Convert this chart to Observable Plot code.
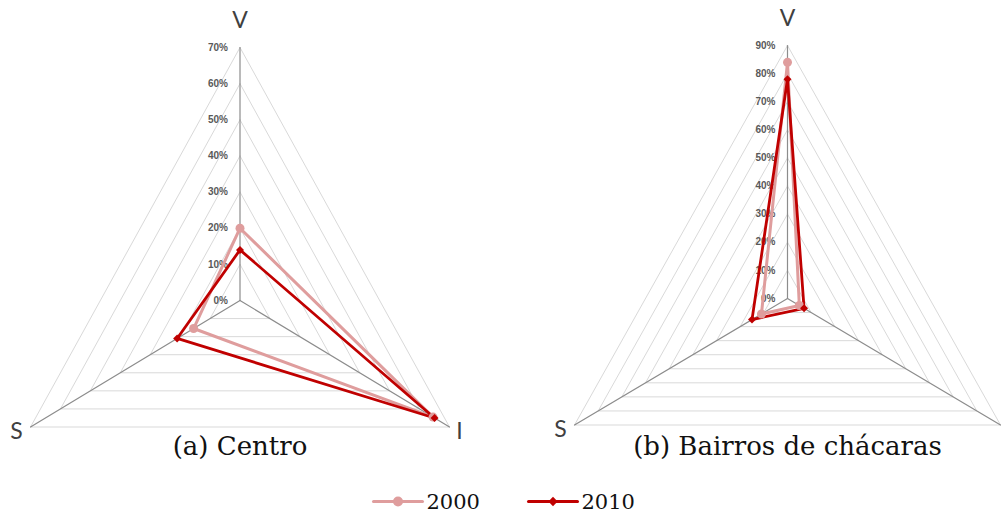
<!DOCTYPE html>
<html><head><meta charset="utf-8">
<script src="https://cdn.jsdelivr.net/npm/d3@7"></script>
<script src="https://cdn.jsdelivr.net/npm/@observablehq/plot@0.6"></script>
<style>body{margin:0;background:#fff;overflow:hidden}</style>
</head><body><div id="chart"></div>
<script>
// ---- data ----
const axisNames = ["V", "S", "I"];
const panelTitles = ["(a) Centro", "(b) Bairros de chácaras"];
const years = ["2000", "2010"];
const centro2000 = [20, 15.5, 64.5];
const centro2010 = [14, 21, 65];
const chacaras2000 = [84, 11, 5];
const chacaras2010 = [78, 15, 7];
const panelMax = [70, 90];
const tickStep = 10;

// ---- layout ----
const W = 1003, H = 524;
const layout = [
  {cx: 239.5, cy: 300, up: 253, half: 209.5, down: 126.5},
  {cx: 787, cy: 298, up: 253, half: 213, down: 126.5}
];
const yearColor = ["#df9d9d", "#c00000"];
const seriesValues = [[centro2000, centro2010], [chacaras2000, chacaras2010]];

function pt(p, k, v) {
  const L = layout[p], f = v / panelMax[p];
  if (k === 0) return [L.cx, L.cy - f * L.up];
  if (k === 1) return [L.cx - f * L.half, L.cy + f * L.down];
  return [L.cx + f * L.half, L.cy + f * L.down];
}

const rings = [], spokes = [], series = [], dots = [], tickLabels = [], axisLabels = [], captions = [];
const labelOffset = [[0, -27], [-14, 5], [10, 5]];
layout.forEach((L, p) => {
  const max = panelMax[p];
  for (let t = tickStep; t <= max; t += tickStep) {
    [0, 1, 2, 0].forEach(k => { const [x, y] = pt(p, k, t); rings.push({id: p + "-" + t, x, y}); });
  }
  for (let t = 0; t <= max; t += tickStep) {
    const [x, y] = pt(p, 0, t);
    tickLabels.push({x: x - 12, y, label: t + "%"});
  }
  [0, 1, 2].forEach(k => {
    const [x0, y0] = pt(p, k, 0), [x1, y1] = pt(p, k, max);
    spokes.push({id: p + "-" + k, x: x0, y: y0}, {id: p + "-" + k, x: x1, y: y1});
    const lx = x1 + labelOffset[k][0];
    // the reference's crop leaves the last "I" label outside the picture
    if (lx < W - 8) axisLabels.push({x: lx, y: y1 + labelOffset[k][1], label: axisNames[k]});
  });
  seriesValues[p].forEach((vals, yi) => {
    [0, 1, 2, 0].forEach(k => { const [x, y] = pt(p, k, vals[k]); series.push({id: p + "-" + yi, yi, x, y}); });
    [0, 1, 2].forEach(k => { const [x, y] = pt(p, k, vals[k]); dots.push({yi, x, y}); });
  });
  captions.push({x: L.cx, y: 446, label: panelTitles[p]});
});

// legend
const legendLines = [], legendDots = [], legendText = [];
years.forEach((yr, i) => {
  const x0 = 373 + i * 155, y = 501;
  legendLines.push({id: yr, yi: i, x: x0, y}, {id: yr, yi: i, x: x0 + 49, y});
  legendDots.push({yi: i, x: x0 + 24.5, y});
  legendText.push({x: x0 + 53, y: y + 1, label: yr});
});

const plot = Plot.plot({
  width: W, height: H, margin: 0,
  x: {domain: [0, W], range: [0, W], axis: null},
  y: {domain: [0, H], range: [0, H], axis: null},
  marks: [
    Plot.line(rings, {x: "x", y: "y", z: "id", stroke: "#d9d9d9", strokeWidth: 1}),
    Plot.line(spokes, {x: "x", y: "y", z: "id", stroke: "#8c8c8c", strokeWidth: 1.2}),
    Plot.text(tickLabels, {x: "x", y: "y", text: "label", textAnchor: "end", fontSize: 10, fontWeight: "bold", fontFamily: "Liberation Sans", fill: "#595959"}),
    Plot.line(series.filter(d => d.yi === 0), {x: "x", y: "y", z: "id", stroke: yearColor[0], strokeWidth: 3}),
    Plot.line(series.filter(d => d.yi === 1), {x: "x", y: "y", z: "id", stroke: yearColor[1], strokeWidth: 2.8}),
    Plot.dot(dots.filter(d => d.yi === 0), {x: "x", y: "y", r: 4.5, fill: yearColor[0], symbol: "circle"}),
    Plot.dot(dots.filter(d => d.yi === 1), {x: "x", y: "y", r: 3.6, fill: yearColor[1], symbol: "diamond2"}),
    Plot.text(axisLabels, {x: "x", y: "y", text: "label", fontSize: 23, fontFamily: "Lato", fill: "#404040"}),
    Plot.text(captions, {x: "x", y: "y", text: "label", fontSize: 26, fontFamily: "DejaVu Serif", fill: "#111"}),
    Plot.line(legendLines.filter(d => d.yi === 0), {x: "x", y: "y", z: "id", stroke: yearColor[0], strokeWidth: 3}),
    Plot.line(legendLines.filter(d => d.yi === 1), {x: "x", y: "y", z: "id", stroke: yearColor[1], strokeWidth: 3}),
    Plot.dot(legendDots.filter(d => d.yi === 0), {x: "x", y: "y", r: 5, fill: yearColor[0], symbol: "circle"}),
    Plot.dot(legendDots.filter(d => d.yi === 1), {x: "x", y: "y", r: 4.2, fill: yearColor[1], symbol: "diamond2"}),
    Plot.text(legendText, {x: "x", y: "y", text: "label", textAnchor: "start", fontSize: 21, fontFamily: "DejaVu Serif", fill: "#111"})
  ]
});
document.getElementById("chart").appendChild(plot);
</script>
</body></html>
